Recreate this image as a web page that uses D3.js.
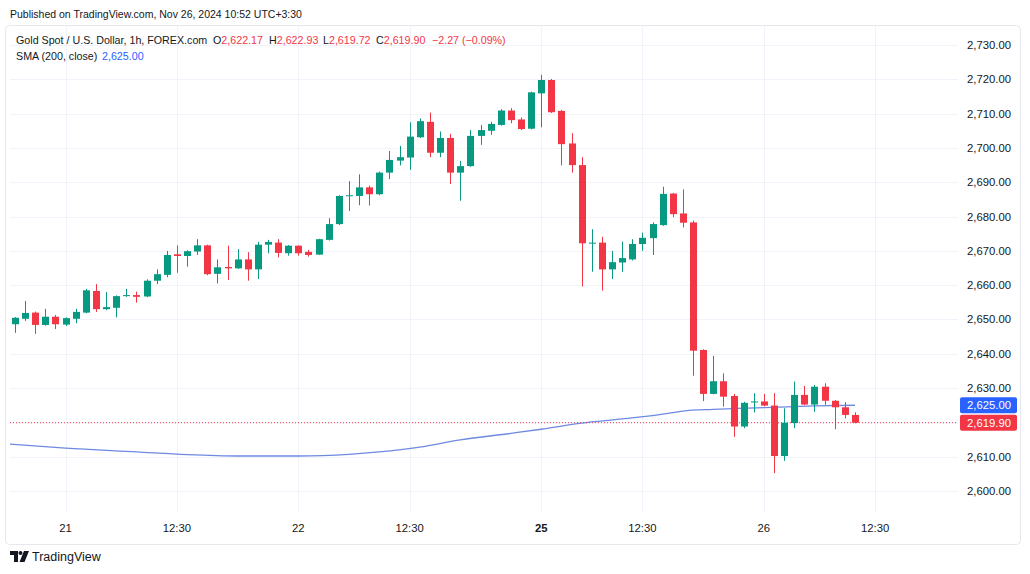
<!DOCTYPE html>
<html>
<head>
<meta charset="utf-8">
<script src="https://cdn.jsdelivr.net/npm/d3@7/dist/d3.min.js"></script>
<style>
    body { margin: 0; background: #ffffff; }
    text { font-family: "Liberation Sans", Arial, sans-serif; fill: #131722; }
</style>
</head>
<body>
<div id="chart"></div>
<script>

// XAUUSD 1h bars, Nov 20 19:30 -> Nov 26 10:30 (UTC+3:30), one entry per bar
var opens = [2648.6, 2650.2, 2652.0, 2648.4, 2650.8, 2648.5, 2650.2, 2652.0, 2658.3, 2653.0,
    2653.4, 2656.8, 2657.1, 2656.7, 2661.3, 2663.0, 2669.0, 2668.5, 2669.8, 2671.6,
    2663.3, 2665.3, 2664.9, 2667.5, 2664.6, 2671.8, 2672.4, 2669.3, 2671.5, 2669.7,
    2668.9, 2673.2, 2677.8, 2686.0, 2686.0, 2688.5, 2686.5, 2692.8, 2696.3, 2697.2,
    2703.1, 2707.6, 2698.6, 2702.9, 2692.8, 2694.7, 2703.5, 2705.0, 2706.7, 2710.9,
    2708.3, 2705.6, 2715.9, 2719.8, 2710.8, 2701.3, 2695.0, 2672.1, 2672.4, 2664.6,
    2666.6, 2667.5, 2672.0, 2673.7, 2677.5, 2686.7, 2680.9, 2678.3, 2641.1, 2628.3,
    2632.0, 2627.7, 2618.8, 2625.8, 2626.1, 2624.9, 2610.2, 2619.8, 2628.0, 2625.2,
    2630.4, 2626.3, 2624.4, 2622.17];
var highs = [2650.7, 2655.4, 2652.3, 2653.1, 2651.3, 2650.6, 2653.1, 2658.9, 2660.3, 2658.0,
    2657.0, 2658.9, 2658.1, 2661.7, 2664.6, 2670.0, 2671.6, 2670.2, 2673.4, 2671.8,
    2667.5, 2671.5, 2670.5, 2669.6, 2672.6, 2673.2, 2673.4, 2671.7, 2671.6, 2670.3,
    2673.5, 2679.5, 2686.2, 2690.3, 2692.3, 2689.0, 2693.1, 2699.1, 2700.6, 2707.5,
    2708.6, 2710.3, 2704.8, 2704.1, 2696.2, 2705.2, 2706.7, 2707.6, 2711.3, 2711.6,
    2708.9, 2716.4, 2721.3, 2720.1, 2711.1, 2704.3, 2697.3, 2676.3, 2674.1, 2670.0,
    2672.7, 2673.4, 2675.3, 2678.3, 2688.7, 2686.9, 2687.9, 2678.8, 2641.3, 2639.4,
    2634.3, 2628.3, 2626.0, 2628.5, 2628.3, 2628.5, 2624.1, 2631.9, 2630.6, 2630.9,
    2631.4, 2626.5, 2625.9, 2622.93];
var lows = [2646.1, 2649.6, 2645.8, 2648.2, 2647.2, 2648.1, 2648.9, 2651.8, 2652.2, 2652.7,
    2650.6, 2656.6, 2654.9, 2656.5, 2660.3, 2662.3, 2663.6, 2665.4, 2668.8, 2662.9,
    2660.5, 2661.5, 2664.7, 2661.3, 2661.8, 2669.3, 2668.1, 2668.6, 2668.6, 2668.3,
    2668.8, 2673.0, 2677.5, 2681.6, 2683.3, 2683.2, 2686.2, 2690.9, 2694.9, 2693.6,
    2702.9, 2697.3, 2697.3, 2689.5, 2684.6, 2694.5, 2700.9, 2703.8, 2706.5, 2707.2,
    2705.2, 2705.4, 2706.0, 2710.2, 2694.9, 2692.8, 2659.6, 2663.9, 2658.4, 2661.8,
    2663.9, 2667.2, 2670.0, 2668.8, 2677.3, 2679.8, 2676.8, 2633.6, 2626.2, 2628.2,
    2624.6, 2615.8, 2618.3, 2622.9, 2624.7, 2605.2, 2608.8, 2618.3, 2625.0, 2623.1,
    2625.1, 2618.0, 2621.2, 2619.72];
var closes = [2650.5, 2651.9, 2648.4, 2650.8, 2648.6, 2650.4, 2652.2, 2658.5, 2653.0, 2653.6,
    2656.8, 2657.1, 2656.6, 2661.3, 2663.2, 2668.8, 2668.5, 2669.9, 2671.6, 2663.2,
    2665.2, 2664.9, 2667.5, 2664.6, 2671.8, 2672.6, 2669.4, 2671.5, 2669.3, 2668.8,
    2673.4, 2677.8, 2686.0, 2686.2, 2688.5, 2686.5, 2692.8, 2696.5, 2697.3, 2703.3,
    2707.8, 2698.6, 2702.9, 2692.8, 2694.7, 2703.5, 2705.2, 2707.0, 2710.9, 2708.1,
    2705.5, 2716.2, 2719.8, 2710.4, 2701.1, 2695.0, 2672.2, 2672.4, 2664.6, 2666.7,
    2667.9, 2672.0, 2673.8, 2677.8, 2686.6, 2680.7, 2678.2, 2640.9, 2628.3, 2632.0,
    2627.5, 2618.8, 2625.7, 2626.1, 2624.9, 2610.2, 2619.9, 2628.0, 2625.2, 2630.4,
    2626.3, 2624.4, 2622.17, 2619.90];

// SMA (200, close) at these bars
var smaBars = [-1, 5, 12, 17, 22, 28, 33, 36, 40, 44, 49, 52, 56, 60, 64, 66, 69, 74, 79, 83];
var smaValues = [2613.8, 2612.5, 2611.4, 2610.6, 2610.2, 2610.2, 2610.7, 2611.4, 2612.8, 2614.9,
    2616.8, 2618.0, 2619.8, 2621.0, 2622.4, 2623.3, 2623.8, 2624.3, 2624.8, 2625.0];

// axis labels
var priceTicks = [2600, 2610, 2620, 2630, 2640, 2650, 2660, 2670, 2680, 2690, 2700, 2710, 2720, 2730];
var timeLabels = ["21", "12:30", "22", "12:30", "25", "12:30", "26", "12:30"];
var timeLabelBars = [5, 16, 28, 39, 52, 62, 74, 85];

/**
 * Constructor for the candlestick chart
 */
function CandleChart(){
    var self = this;
    self.init();
};

/**
 * Sets up the svg, the scales and the clip of the price pane
 */
CandleChart.prototype.init = function(){
    var self = this;
    self.width = 1030;
    self.height = 574;
    self.pane = {left: 10, right: 958, top: 26, bottom: 513};
    self.green = "#089981";
    self.red = "#F23645";

    self.svg = d3.select("#chart").append("svg")
        .attr("width", self.width)
        .attr("height", self.height);

    // bar index -> pixel, 10.12px per bar
    self.xScale = d3.scaleLinear()
        .domain([0, 83])
        .range([15, 15 + 83 * 10.12]);

    self.yScale = d3.scaleLinear()
        .domain([2600, 2730])
        .range([491, 45]);

    self.svg.append("clipPath").attr("id", "pane-clip")
        .append("rect")
        .attr("x", self.pane.left)
        .attr("y", self.pane.top)
        .attr("width", self.pane.right - self.pane.left)
        .attr("height", self.pane.bottom - self.pane.top);
};

/**
 * Draws grid, candles, SMA, axes and the header texts
 */
CandleChart.prototype.update = function(){
    var self = this;
    var fmt = d3.format(",.2f");
    var x = self.xScale, y = self.yScale;

    var bars = opens.map(function(o, i){
        return {i: i, o: o, h: highs[i], l: lows[i], c: closes[i]};
    });

    // outer frame
    self.svg.append("rect")
        .attr("x", 5.5).attr("y", 25.5)
        .attr("width", 1015).attr("height", 519)
        .attr("rx", 4)
        .attr("fill", "none")
        .attr("stroke", "#e6e8ee");

    var grid = self.svg.append("g").attr("clip-path", "url(#pane-clip)");

    grid.selectAll("line.h").data(priceTicks).enter().append("line")
        .attr("class", "h")
        .attr("x1", self.pane.left).attr("x2", self.pane.right)
        .attr("y1", function(d){ return Math.round(y(d)) + 0.5; })
        .attr("y2", function(d){ return Math.round(y(d)) + 0.5; })
        .attr("stroke", "#f0f3fa");

    grid.selectAll("line.v").data(timeLabelBars).enter().append("line")
        .attr("class", "v")
        .attr("x1", function(d){ return Math.round(x(d)) + 0.5; })
        .attr("x2", function(d){ return Math.round(x(d)) + 0.5; })
        .attr("y1", self.pane.top).attr("y2", self.pane.bottom)
        .attr("stroke", "#f0f3fa");

    var plot = self.svg.append("g").attr("clip-path", "url(#pane-clip)");

    // SMA line
    var smaLine = d3.line()
        .x(function(d){ return x(d[0]); })
        .y(function(d){ return y(d[1]); })
        .curve(d3.curveMonotoneX);

    plot.append("path")
        .datum(d3.zip(smaBars, smaValues))
        .attr("d", smaLine)
        .attr("fill", "none")
        .attr("stroke", "#3d63d6")
        .attr("stroke-opacity", 0.75)
        .attr("stroke-width", 1.3);

    // last price dotted line
    var last = bars[bars.length - 1];
    plot.append("line")
        .attr("x1", self.pane.left).attr("x2", self.pane.right)
        .attr("y1", y(last.c)).attr("y2", y(last.c))
        .attr("stroke", self.red)
        .attr("stroke-width", 1)
        .attr("stroke-dasharray", "1,2");

    // candles
    var candles = plot.selectAll("g.candle").data(bars).enter().append("g")
        .attr("class", "candle")
        .attr("fill", function(d){ return d.c >= d.o ? self.green : self.red; })
        .attr("stroke", function(d){ return d.c >= d.o ? self.green : self.red; });

    candles.append("line")
        .attr("x1", function(d){ return Math.round(x(d.i)) + 0.5; })
        .attr("x2", function(d){ return Math.round(x(d.i)) + 0.5; })
        .attr("y1", function(d){ return y(d.h); })
        .attr("y2", function(d){ return y(d.l); })
        .attr("stroke-width", 1);

    candles.append("rect")
        .attr("x", function(d){ return Math.round(x(d.i)) - 3; })
        .attr("width", 7)
        .attr("y", function(d){ return y(Math.max(d.o, d.c)); })
        .attr("height", function(d){ return Math.max(1, Math.abs(y(d.o) - y(d.c))); })
        .attr("stroke", "none");

    // price axis
    self.svg.selectAll("text.price").data(priceTicks).enter().append("text")
        .attr("class", "price")
        .attr("x", 1011)
        .attr("y", function(d){ return y(d) + 4; })
        .attr("text-anchor", "end")
        .style("font-size", "11.3px")
        .text(function(d){ return fmt(d); });

    // price badges: SMA and last close
    var badges = [
        {v: smaValues[smaValues.length - 1], color: "#2962FF"},
        {v: last.c, color: self.red}
    ];
    var badge = self.svg.selectAll("g.badge").data(badges).enter().append("g")
        .attr("class", "badge");
    badge.append("rect")
        .attr("x", 960).attr("width", 57)
        .attr("y", function(d){ return y(d.v) - 8; })
        .attr("height", 16)
        .attr("rx", 2)
        .attr("fill", function(d){ return d.color; });
    badge.append("text")
        .attr("x", 1011)
        .attr("y", function(d){ return y(d.v) + 4; })
        .attr("text-anchor", "end")
        .style("font-size", "11.3px")
        .style("fill", "#ffffff")
        .text(function(d){ return fmt(d.v); });

    // time axis
    self.svg.selectAll("text.time").data(timeLabels).enter().append("text")
        .attr("class", "time")
        .attr("x", function(d, i){ return x(timeLabelBars[i]); })
        .attr("y", 532)
        .attr("text-anchor", "middle")
        .style("font-size", "11.3px")
        .style("font-weight", function(d){ return d == "25" ? "bold" : "normal"; })
        .text(function(d){ return d; });

    // header
    self.svg.append("text")
        .attr("x", 10).attr("y", 18)
        .style("font-size", "10.5px")
        .text("Published on TradingView.com, Nov 26, 2024 10:52 UTC+3:30");

    var prev = bars[bars.length - 2];
    var chg = last.c - prev.c;
    var minus = function(s){ return s.replace("-", "\u2212"); };

    var head = self.svg.append("text")
        .attr("y", 44)
        .style("font-size", "10.7px");
    head.append("tspan").attr("x", 16).text("Gold Spot / U.S. Dollar, 1h, FOREX.com");
    var ohlcX = [213, 269, 323, 376];
    [["O", last.o], ["H", last.h], ["L", last.l], ["C", last.c]].forEach(function(p, k){
        head.append("tspan").attr("x", ohlcX[k]).text(p[0]);
        head.append("tspan").style("fill", self.red).text(fmt(p[1]));
    });
    head.append("tspan").attr("x", 432).style("fill", self.red)
        .text(minus(fmt(chg)) + " (" + minus(d3.format(".2f")(chg / prev.c * 100)) + "%)");

    var sma = self.svg.append("text")
        .attr("y", 60)
        .style("font-size", "10.7px");
    sma.append("tspan").attr("x", 16).text("SMA (200, close)");
    sma.append("tspan").attr("x", 102).style("fill", "#2962FF").text(fmt(smaValues[smaValues.length - 1]));

    // TradingView logo
    var logo = self.svg.append("g").attr("fill", "#131722");
    logo.append("path").attr("d", "M10,551h8v11h-4v-7h-4z");
    logo.append("circle").attr("cx", 20.5).attr("cy", 553).attr("r", 2);
    logo.append("path").attr("d", "M24,551h5l-4.5,11h-5z");
    self.svg.append("text")
        .attr("x", 32).attr("y", 561)
        .style("font-size", "12.5px")
        .text("TradingView");
};

var chart = new CandleChart();
chart.update();

</script>
</body>
</html>
